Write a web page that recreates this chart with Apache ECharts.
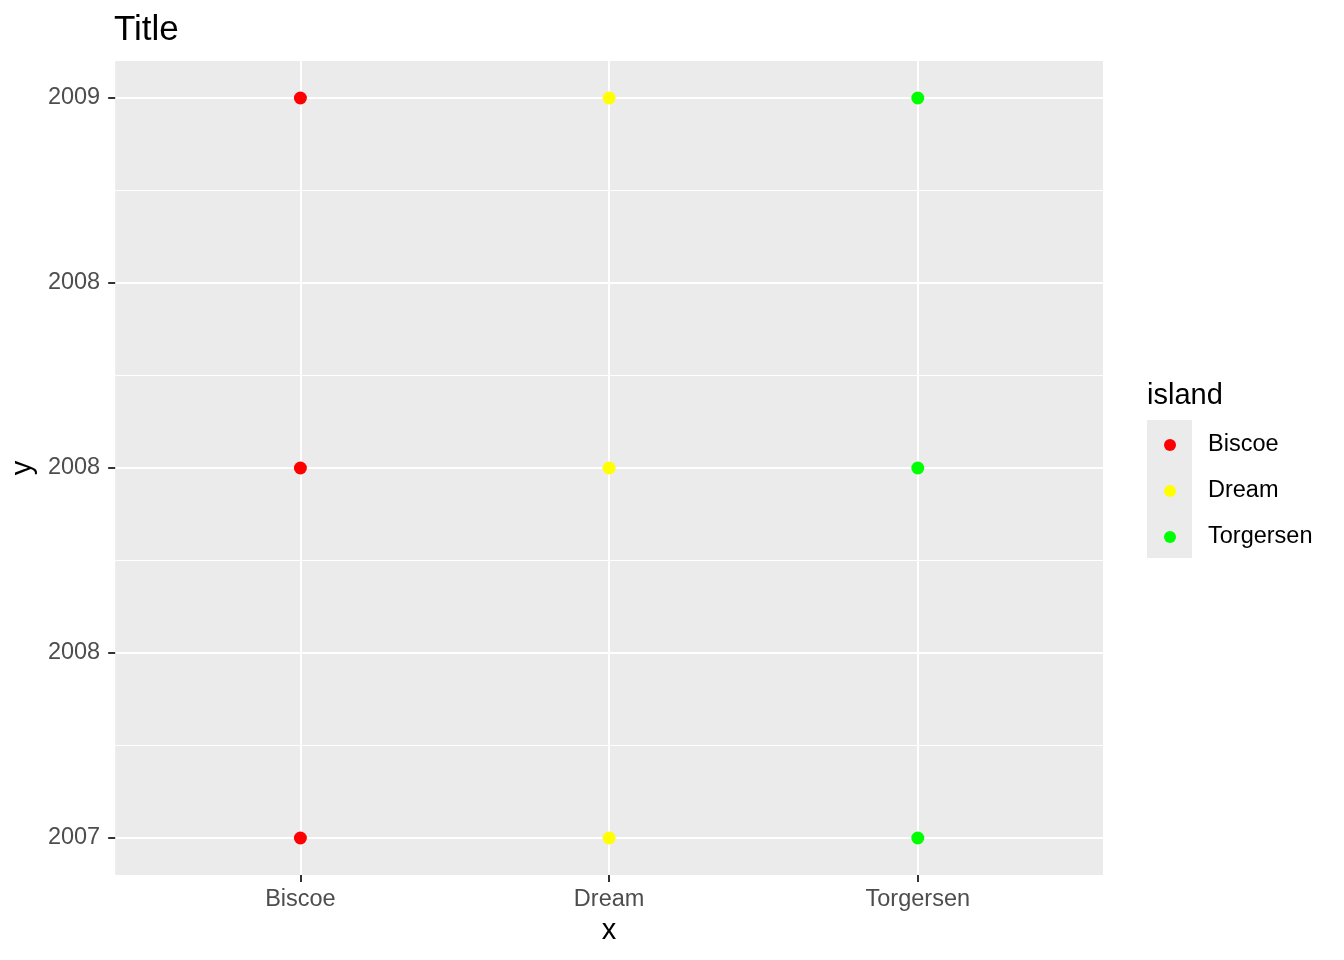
<!DOCTYPE html>
<html>
<head>
<meta charset="utf-8">
<script src="https://cdn.jsdelivr.net/npm/echarts@6/dist/echarts.min.js"></script>
<style>html,body{margin:0;padding:0;background:#fff}#c{width:1344px;height:960px}</style>
</head>
<body>
<div id="c"></div>
<script>
// ---- data ----
const islands = ['Biscoe', 'Dream', 'Torgersen'];
const islandColors = ['#FF0000', '#FFFF00', '#00FF00'];
const yearsBiscoe = [2007, 2008, 2009];
const yearsDream = [2007, 2008, 2009];
const yearsTorgersen = [2007, 2008, 2009];
const yTickValues = [2007, 2007.5, 2008, 2008.5, 2009];
const yTickLabels = ['2007', '2008', '2008', '2008', '2009'];
const yMinorValues = [2007.25, 2007.75, 2008.25, 2008.75];
const xTickValues = [0, 1, 2];

const yearsByIsland = [yearsBiscoe, yearsDream, yearsTorgersen];
const FONT = '"Liberation Sans", Arial, Helvetica, sans-serif';

const chart = echarts.init(document.getElementById('c'), null, {renderer: 'canvas'});

const series = islands.map((name, i) => ({
  name: name,
  type: 'scatter',
  xAxisIndex: 0,
  yAxisIndex: 0,
  symbol: 'circle',
  symbolSize: 13,
  itemStyle: {color: islandColors[i], opacity: 1},
  data: yearsByIsland[i].map(y => [i, y]),
  z: 3
}));

chart.setOption({
  animation: false,
  backgroundColor: '#FFFFFF',
  textStyle: {fontFamily: FONT},
  title: [
    {text: 'Title', left: 109, top: 8, textStyle: {fontFamily: FONT, fontSize: 35, fontWeight: 'normal', color: '#000'}},
    {text: 'island', left: 1142, top: 376, textStyle: {fontFamily: FONT, fontSize: 29, fontWeight: 'normal', color: '#000'}}
  ],
  graphic: [
    {type: 'rect', left: 1147, top: 420, shape: {width: 45, height: 138}, style: {fill: '#EBEBEB'}, z: 0, silent: true}
  ],
  legend: {
    orient: 'vertical',
    left: 1164,
    top: 433,
    padding: 0,
    itemWidth: 66,
    itemHeight: 12,
    itemGap: 22,
    icon: 'circle',
    data: islands,
    textStyle: {fontFamily: FONT, fontSize: 23.5, color: '#000', lineHeight: 24},
    selectedMode: false
  },
  grid: {
    left: 115, right: 241, top: 61, bottom: 85,
    show: true, backgroundColor: '#EBEBEB', borderWidth: 0,
    containLabel: false
  },
  xAxis: [{
    type: 'value',
    min: -0.6, max: 2.6,
    name: 'x',
    nameLocation: 'middle',
    nameGap: 41,
    nameTextStyle: {fontFamily: FONT, fontSize: 29, color: '#000'},
    axisLine: {show: false, onZero: false},
    axisTick: {show: true, length: 7, lineStyle: {color: '#333333', width: 2}, customValues: xTickValues},
    axisLabel: {show: true, margin: 13, fontFamily: FONT, fontSize: 23.5, color: '#4D4D4D',
      customValues: xTickValues, formatter: v => islands[Math.round(v)]},
    splitLine: {show: true, lineStyle: {color: '#FFFFFF', width: 2}}
  }],
  yAxis: [{
    type: 'value',
    min: 2006.9, max: 2009.1,
    name: 'y',
    nameLocation: 'middle',
    nameRotate: 90,
    nameGap: 59,
    nameTextStyle: {fontFamily: FONT, fontSize: 29, color: '#000'},
    axisLine: {show: false, onZero: false},
    axisTick: {show: true, length: 7, lineStyle: {color: '#333333', width: 2}, customValues: yTickValues},
    axisLabel: {show: true, margin: 15, fontFamily: FONT, fontSize: 23.5, color: '#4D4D4D',
      customValues: yTickValues,
      formatter: v => { const k = yTickValues.findIndex(t => Math.abs(t - v) < 1e-6); return k >= 0 ? yTickLabels[k] : ''; }},
    splitLine: {show: true, lineStyle: {color: '#FFFFFF', width: 2}}
  }, {
    type: 'value',
    min: 2006.9, max: 2009.1,
    position: 'left',
    axisLine: {show: false, onZero: false},
    axisTick: {show: false, customValues: yMinorValues},
    axisLabel: {show: false, customValues: yMinorValues},
    splitLine: {show: true, lineStyle: {color: '#FFFFFF', width: 1}}
  }],
  series: series
});
</script>
</body>
</html>
